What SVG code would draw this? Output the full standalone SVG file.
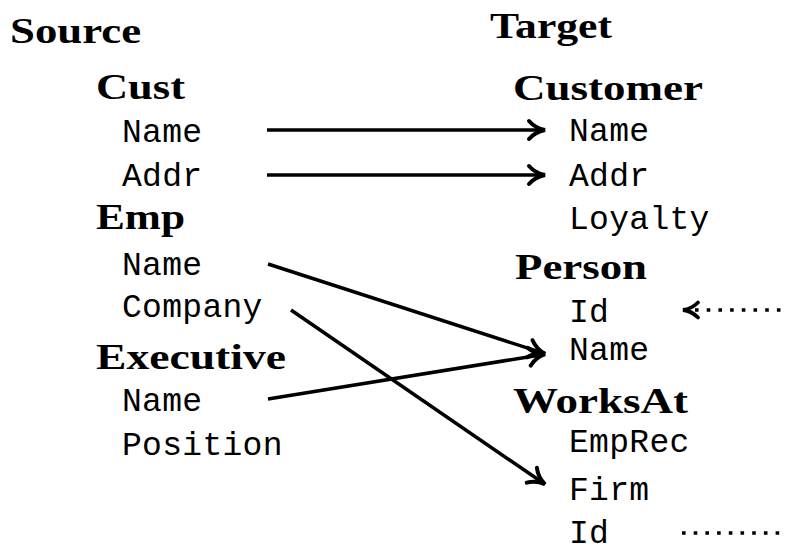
<svg xmlns="http://www.w3.org/2000/svg" width="787" height="548" viewBox="0 0 787 548">
<style>
.h{font-family:"Liberation Serif","DejaVu Serif",serif;font-weight:bold;font-size:36px;fill:#000}
.m{font-family:"Liberation Mono","DejaVu Sans Mono",monospace;font-size:33px;letter-spacing:0.3px;fill:#000}
.c{stroke:#000;stroke-width:3.5;fill:none;stroke-linecap:butt}
.d{stroke:#000;stroke-width:3.6;fill:none;stroke-dasharray:3.6 8.1}
</style>
<defs>
<marker id="ah" markerUnits="userSpaceOnUse" viewBox="-18 -11 20 22" refX="0" refY="0" markerWidth="20" markerHeight="22" orient="auto" overflow="visible">
<path d="M -16 -9 C -11.5 -3.8, -5.5 -1, 0 0 C -5.5 1, -11.5 3.8, -16 9" stroke="#000" stroke-width="4" fill="none" stroke-linecap="round" stroke-linejoin="miter"/>
</marker>
</defs>
<g id="source">
<text class="h" x="10" y="43" textLength="131" lengthAdjust="spacingAndGlyphs">Source</text>
</g>
<g id="target">
<text class="h" x="490" y="38" textLength="122" lengthAdjust="spacingAndGlyphs">Target</text>
</g>
<g id="cust">
<text class="h" x="96" y="99" textLength="89" lengthAdjust="spacingAndGlyphs">Cust</text>
<text class="m" x="122" y="142">Name</text>
<text class="m" x="122" y="186">Addr</text>
</g>
<g id="emp">
<text class="h" x="96" y="229" textLength="89" lengthAdjust="spacingAndGlyphs">Emp</text>
<text class="m" x="122" y="275">Name</text>
<text class="m" x="122" y="317">Company</text>
</g>
<g id="executive">
<text class="h" x="96" y="369" textLength="190" lengthAdjust="spacingAndGlyphs">Executive</text>
<text class="m" x="122" y="411">Name</text>
<text class="m" x="122" y="455">Position</text>
</g>
<g id="customer">
<text class="h" x="513" y="100" textLength="190" lengthAdjust="spacingAndGlyphs">Customer</text>
<text class="m" x="569" y="141">Name</text>
<text class="m" x="569" y="186">Addr</text>
<text class="m" x="569" y="229">Loyalty</text>
</g>
<g id="person">
<text class="h" x="515" y="279" textLength="132" lengthAdjust="spacingAndGlyphs">Person</text>
<text class="m" x="569" y="322">Id</text>
<text class="m" x="569" y="360">Name</text>
</g>
<g id="worksat">
<text class="h" x="513" y="413" textLength="175" lengthAdjust="spacingAndGlyphs">WorksAt</text>
<text class="m" x="569" y="452">EmpRec</text>
<text class="m" x="569" y="500">Firm</text>
<text class="m" x="569" y="543">Id</text>
</g>
<g id="connectors">
<line class="c" x1="267" y1="130" x2="545" y2="130" marker-end="url(#ah)"/>
<line class="c" x1="267" y1="175" x2="545" y2="175" marker-end="url(#ah)"/>
<line class="c" x1="268" y1="264" x2="545" y2="353.7" marker-end="url(#ah)"/>
<line class="c" x1="268" y1="399" x2="545" y2="354.2" marker-end="url(#ah)"/>
<line class="c" x1="291" y1="310" x2="545" y2="484.3" marker-end="url(#ah)"/>
<line class="d" x1="695" y1="310" x2="787" y2="310"/>
<path d="M 698 302.5 C 694 306.5, 688.5 309.3, 683 310 C 688.5 310.7, 694 313.5, 698 317.5" stroke="#000" stroke-width="3.8" fill="none" stroke-linecap="round"/>
<line class="d" x1="682" y1="533" x2="787" y2="533"/>
</g>
</svg>
